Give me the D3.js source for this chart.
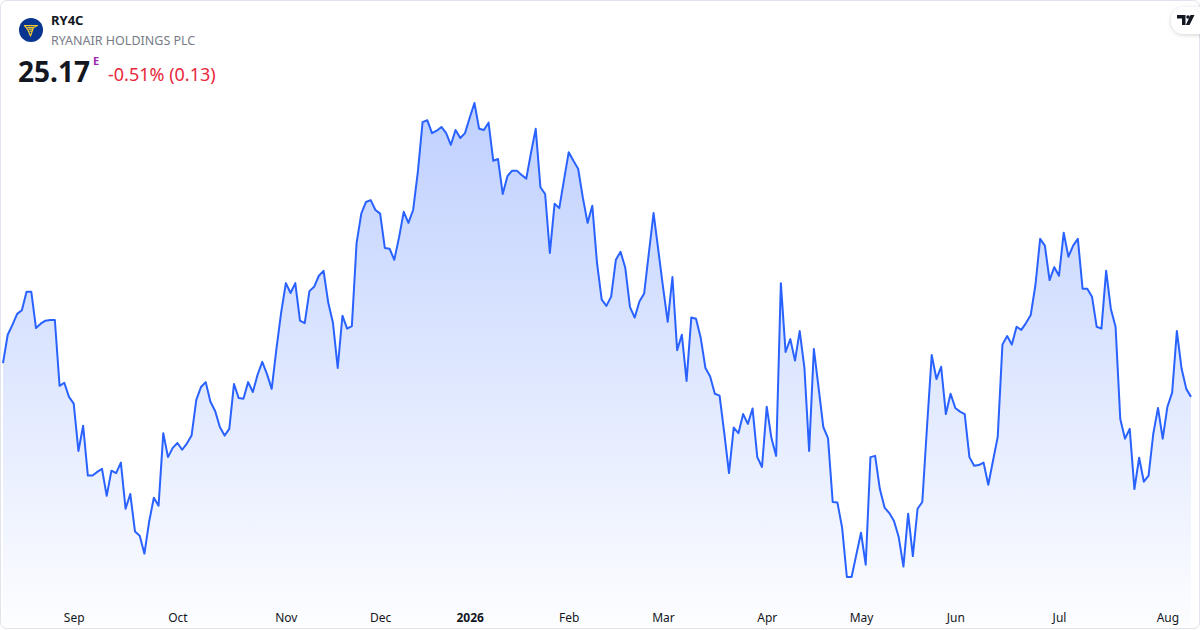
<!DOCTYPE html>
<html>
<head>
<meta charset="utf-8">
<script src="https://cdn.jsdelivr.net/npm/d3@7"></script>
<style>
  html, body { margin: 0; padding: 0; background: #ffffff; }
  svg { display: block; font-family: "Noto Sans", "Open Sans", sans-serif; }
</style>
</head>
<body>
<div id="chart"></div>
<script>
// month labels and the index of each month's first trading day
const tickLabels = ["Sep", "Oct", "Nov", "Dec", "2026", "Feb", "Mar", "Apr", "May", "Jun", "Jul", "Aug"];
const tickIndex = [15, 37, 60, 80, 99, 120, 140, 162, 182, 202, 224, 247];

// daily closes
const prices = [
  25.72, 26.18, 26.34, 26.52, 26.58, 26.88, 26.88, 26.29, 26.36, 26.41,
  26.42, 26.42, 25.35, 25.40, 25.17, 25.06, 24.29, 24.70, 23.89, 23.89,
  23.95, 24.00, 23.56, 23.97, 23.93, 24.10, 23.35, 23.59, 22.98, 22.91,
  22.62, 23.14, 23.53, 23.40, 24.58, 24.19, 24.34, 24.42, 24.31, 24.41,
  24.54, 25.12, 25.33, 25.41, 25.09, 24.94, 24.68, 24.54, 24.65, 25.38,
  25.15, 25.14, 25.41, 25.25, 25.53, 25.74, 25.54, 25.30, 25.95, 26.54,
  27.02, 26.86, 27.02, 26.41, 26.37, 26.89, 26.96, 27.14, 27.22, 26.70,
  26.37, 25.64, 26.49, 26.28, 26.32, 27.67, 28.15, 28.34, 28.37, 28.21,
  28.15, 27.59, 27.58, 27.40, 27.76, 28.18, 28.00, 28.21, 28.83, 29.64,
  29.67, 29.46, 29.50, 29.56, 29.46, 29.27, 29.51, 29.38, 29.46, 29.71,
  29.95, 29.53, 29.51, 29.63, 29.01, 29.04, 28.47, 28.76, 28.85, 28.85,
  28.78, 28.72, 29.14, 29.53, 28.58, 28.47, 27.51, 28.31, 28.24, 28.70,
  29.15, 29.01, 28.88, 28.41, 28.00, 28.28, 27.35, 26.75, 26.65, 26.80,
  27.40, 27.53, 27.27, 26.63, 26.46, 26.72, 26.85, 27.51, 28.16, 27.56,
  26.96, 26.39, 27.12, 25.93, 26.18, 25.43, 26.46, 26.44, 26.13, 25.64,
  25.50, 25.22, 25.19, 24.58, 23.93, 24.67, 24.58, 24.89, 24.73, 24.98,
  24.19, 24.03, 25.01, 24.50, 24.21, 27.02, 25.90, 26.11, 25.76, 26.24,
  25.64, 24.29, 25.95, 25.32, 24.68, 24.50, 23.46, 23.45, 23.04, 22.24,
  22.24, 22.60, 22.96, 22.44, 24.19, 24.21, 23.67, 23.37, 23.28, 23.15,
  22.89, 22.41, 23.27, 22.58, 23.35, 23.46, 24.68, 25.85, 25.46, 25.66,
  24.89, 25.22, 24.99, 24.93, 24.89, 24.19, 24.05, 24.06, 24.10, 23.74,
  24.13, 24.52, 26.02, 26.16, 26.02, 26.31, 26.26, 26.37, 26.50, 26.99,
  27.74, 27.63, 27.07, 27.28, 27.14, 27.84, 27.45, 27.63, 27.74, 26.93,
  26.93, 26.80, 26.31, 26.28, 27.22, 26.60, 26.31, 24.81, 24.49, 24.65,
  23.67, 24.18, 23.79, 23.89, 24.57, 24.99, 24.49, 25.01, 25.24, 26.24,
  25.63, 25.30, 25.17
];

const width = 1200;
const height = 630;

const svg = d3.select("#chart")
  .append("svg")
  .attr("width", width)
  .attr("height", height);

const defs = svg.append("defs");

const grad = defs.append("linearGradient")
  .attr("id", "areaFill")
  .attr("gradientUnits", "userSpaceOnUse")
  .attr("x1", 0).attr("y1", 100)
  .attr("x2", 0).attr("y2", 628);
grad.append("stop").attr("offset", "0%").attr("stop-color", "#2962ff").attr("stop-opacity", 0.3);
grad.append("stop").attr("offset", "100%").attr("stop-color", "#2962ff").attr("stop-opacity", 0.01);

const shadow = defs.append("filter").attr("id", "pillShadow")
  .attr("x", "-50%").attr("y", "-50%").attr("width", "200%").attr("height", "200%");
shadow.append("feDropShadow")
  .attr("dx", 0).attr("dy", 1).attr("stdDeviation", 2)
  .attr("flood-color", "#000").attr("flood-opacity", 0.18);

// card frame
svg.append("rect")
  .attr("x", 0.5).attr("y", 0.5)
  .attr("width", width - 1).attr("height", height - 2)
  .attr("rx", 6)
  .attr("fill", "#ffffff")
  .attr("stroke", "#e0e3eb");

// scales
const x = d3.scaleLinear()
  .domain([0, prices.length - 1])
  .range([3, 1191]);

const y = d3.scaleLinear()
  .domain(d3.extent(prices))
  .range([577, 103]);

const area = d3.area()
  .x((d, i) => x(i))
  .y0(627)
  .y1(d => y(d));

const line = d3.line()
  .x((d, i) => x(i))
  .y(d => y(d));

svg.append("path")
  .datum(prices)
  .attr("d", area)
  .attr("fill", "url(#areaFill)");

svg.append("path")
  .datum(prices)
  .attr("d", line)
  .attr("fill", "none")
  .attr("stroke", "#2962ff")
  .attr("stroke-width", 2)
  .attr("stroke-linejoin", "round");

// x axis, labels only
const xAxis = d3.axisBottom(x)
  .tickValues(tickIndex)
  .tickFormat((d, i) => tickLabels[i])
  .tickSize(0)
  .tickPadding(0);

const axisG = svg.append("g")
  .attr("transform", "translate(0,613)")
  .call(xAxis);

axisG.select(".domain").remove();
axisG.selectAll("text")
  .attr("font-family", "'Noto Sans', sans-serif")
  .attr("font-size", 12)
  .attr("fill", "#131722")
  .attr("font-weight", (d, i) => tickLabels[i] === "2026" ? 700 : 400);

// header
const head = svg.append("g");

head.append("circle")
  .attr("cx", 31).attr("cy", 30).attr("r", 12)
  .attr("fill", "#073590");

// simplified harp emblem
head.append("path")
  .attr("d", "M24.5,25.5 L37.5,25.5 L33.5,27.5 L30.5,36 L27.5,29 Z M27.5,27.3 L34,27.3 M28.5,29.2 L33,29.2 M29.5,31.2 L32.3,31.2")
  .attr("fill", "none")
  .attr("stroke", "#f1c933")
  .attr("stroke-width", 1.2)
  .attr("stroke-linejoin", "round");

head.append("text")
  .attr("x", 51).attr("y", 25)
  .attr("font-size", 13).attr("font-weight", 700)
  .attr("fill", "#131722")
  .text("RY4C");

head.append("text")
  .attr("x", 51).attr("y", 45)
  .attr("font-size", 12.5)
  .attr("fill", "#787b86")
  .text("RYANAIR HOLDINGS PLC");

head.append("text")
  .attr("x", 18).attr("y", 82)
  .attr("font-size", 28).attr("font-weight", 700)
  .attr("fill", "#131722")
  .text("25.17");

head.append("text")
  .attr("x", 93).attr("y", 65)
  .attr("font-size", 11).attr("font-weight", 700)
  .attr("fill", "#9c27b0")
  .text("E");

head.append("text")
  .attr("x", 108).attr("y", 81)
  .attr("font-size", 18)
  .attr("fill", "#e8283c")
  .text("-0.51% (0.13)");

// TradingView badge, top right
const badge = svg.append("g");
badge.append("rect")
  .attr("x", 1171).attr("y", 7)
  .attr("width", 40).attr("height", 27)
  .attr("rx", 13)
  .attr("fill", "#ffffff")
  .attr("filter", "url(#pillShadow)");
badge.append("path")
  .attr("d", "M1177,15 L1185.5,15 L1185.5,25 L1182,25 L1182,18.5 L1177,18.5 Z M1190.5,15 L1194.5,15 L1189.5,25 L1185.8,25 Z")
  .attr("fill", "#131722");
badge.append("circle")
  .attr("cx", 1188).attr("cy", 17)
  .attr("r", 1.8)
  .attr("fill", "#131722");
</script>
</body>
</html>
